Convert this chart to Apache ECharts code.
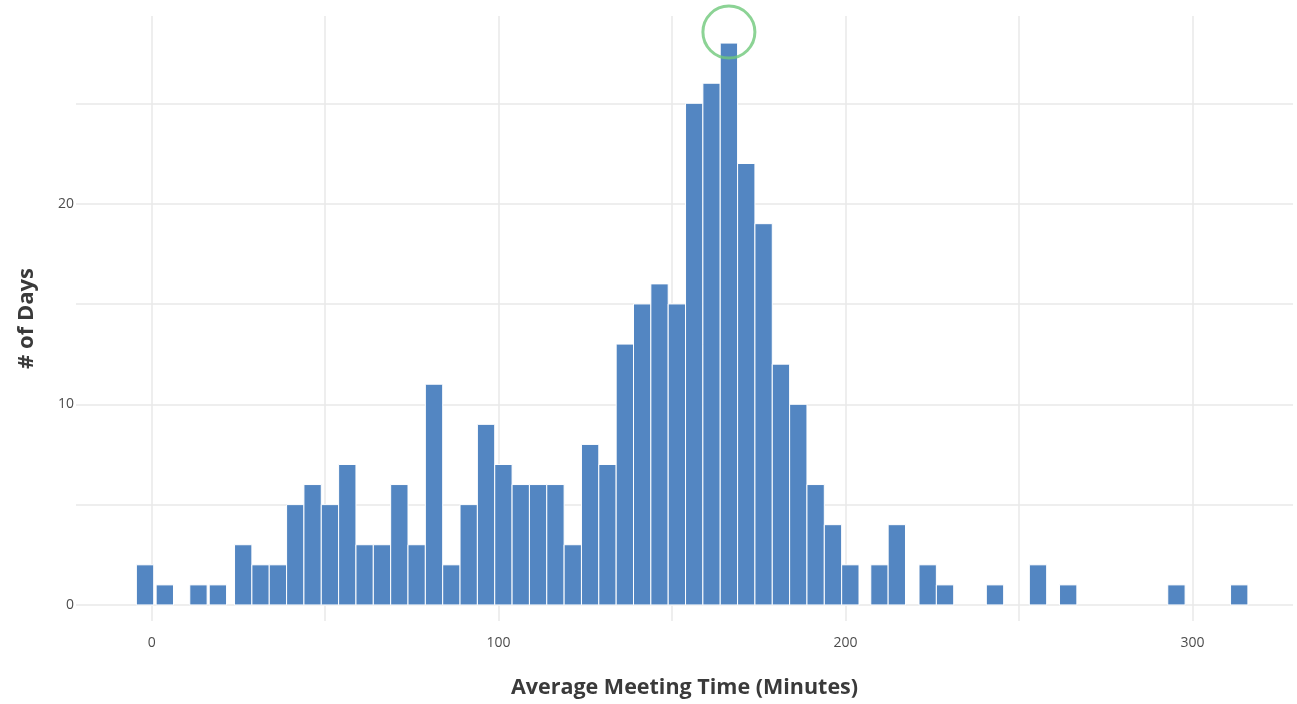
<!DOCTYPE html>
<html>
<head>
<meta charset="utf-8">
<script src="https://cdn.jsdelivr.net/npm/echarts@6/dist/echarts.min.js"></script>
<style>
html,body{margin:0;padding:0;background:#fff;}
#chart{width:1297px;height:704px;}
</style>
</head>
<body>
<div id="chart"></div>
<script>
// Bin centres (minutes) and counts (# of days)
var binCenters = [-1.9, 3.8, 13.5, 19.1,
  26.4, 31.4, 36.4, 41.4, 46.4, 51.4, 56.4, 61.4, 66.4, 71.4, 76.4, 81.4, 86.4, 91.4,
  96.4, 101.4, 106.4, 111.4, 116.4, 121.4, 126.4, 131.4, 136.4, 141.4, 146.4, 151.4,
  156.4, 161.4, 166.4, 171.4, 176.4, 181.4, 186.4, 191.4, 196.4, 201.4,
  209.8, 214.8, 223.7, 228.7, 243.1, 255.5, 264.2, 295.4, 313.5];
var binCounts = [2, 1, 1, 1,
  3, 2, 2, 5, 6, 5, 7, 3, 3, 6, 3, 11, 2, 5,
  9, 7, 6, 6, 6, 3, 8, 7, 13, 15, 16, 15,
  25, 26, 28, 22, 19, 12, 10, 6, 4, 2,
  2, 4, 2, 1, 1, 2, 1, 1, 1];
var binWidth = 5;
var xTickLabels = [0, 100, 200, 300];
var yTickLabels = [0, 10, 20];
var xTitle = 'Average Meeting Time (Minutes)';
var yTitle = '# of Days';

var barData = binCenters.map(function (c, i) { return [c - binWidth / 2, c + binWidth / 2, binCounts[i]]; });
var peakIdx = binCounts.indexOf(Math.max.apply(null, binCounts));
var peakPoint = [binCenters[peakIdx], binCounts[peakIdx]];

var chart = echarts.init(document.getElementById('chart'), null, {renderer: 'canvas'});
var tickFont = '"Open Sans", Lato, sans-serif';
var titleFont = '"Open Sans", Lato, sans-serif';
var option = {
  backgroundColor: '#ffffff',
  animation: false,
  grid: {left: 76, right: 4, top: 16, height: 608, containLabel: false},
  xAxis: {
    type: 'value', min: -21.8, max: 329, splitNumber: 7,
    axisLine: {show: false}, axisTick: {show: false},
    splitLine: {show: true, showMinLine: false, showMaxLine: false, lineStyle: {color: '#e8e8e8', width: 1.5}},
    axisLabel: {
      showMinLabel: false, showMaxLabel: false, margin: 15,
      color: '#4d4d4d', fontSize: 14, fontFamily: tickFont,
      formatter: function (v) { return xTickLabels.indexOf(v) >= 0 ? String(v) : ''; }
    },
    name: xTitle, nameLocation: 'middle', nameGap: 56,
    nameTextStyle: {color: '#3a3a3a', fontSize: 21.5, fontWeight: 'bold', fontFamily: titleFont}
  },
  yAxis: {
    type: 'value', min: -0.8, max: 29.35, splitNumber: 5,
    axisLine: {show: false}, axisTick: {show: false},
    splitLine: {show: true, showMinLine: false, showMaxLine: false, lineStyle: {color: '#e8e8e8', width: 1.5}},
    axisLabel: {
      showMinLabel: false, showMaxLabel: false, margin: 2,
      color: '#4d4d4d', fontSize: 14, fontFamily: tickFont,
      formatter: function (v) { return yTickLabels.indexOf(v) >= 0 ? String(v) : ''; }
    },
    name: yTitle, nameLocation: 'middle', nameGap: 38, nameRotate: 90,
    nameTextStyle: {color: '#3a3a3a', fontSize: 22, fontWeight: 'bold', fontFamily: titleFont}
  },
  series: [{
    type: 'custom',
    data: barData,
    encode: {x: [0, 1], y: 2},
    renderItem: function (params, api) {
      var p0 = api.coord([api.value(0), 0]);
      var p1 = api.coord([api.value(1), api.value(2)]);
      return {
        type: 'rect',
        shape: {x: p0[0], y: p1[1], width: p1[0] - p0[0], height: p0[1] - p1[1]},
        style: {fill: '#5386c2', stroke: '#ffffff', lineWidth: 1}
      };
    }
  }, {
    type: 'scatter',
    data: [peakPoint],
    symbol: 'circle', symbolSize: 52, symbolOffset: [0, -11],
    itemStyle: {color: 'rgba(0,0,0,0)', borderColor: '#6fc87a', borderWidth: 3},
    z: 5
  }]
};
chart.setOption(option);
</script>
</body>
</html>
